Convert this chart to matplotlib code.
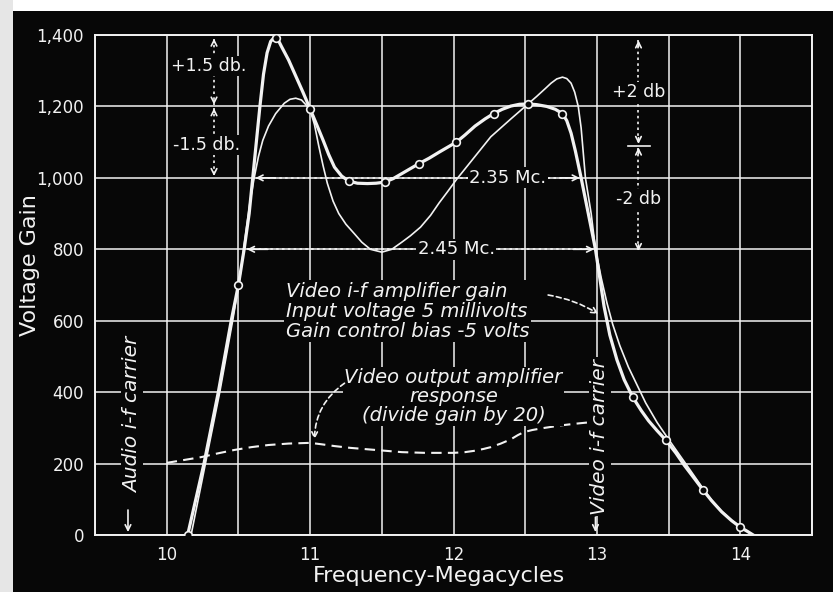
import numpy as np
import matplotlib
matplotlib.use("Agg")
from matplotlib import pyplot as plt
from matplotlib.patches import Rectangle

# measured i-f gain (thick curve through the circles)
gain_x = [10.146, 10.26, 10.36, 10.45, 10.50, 10.54, 10.575, 10.60, 10.625, 10.65, 10.675,
          10.70, 10.725, 10.75, 10.775, 10.80, 10.85, 10.90, 10.95, 11.00, 11.05, 11.09,
          11.13, 11.17, 11.22, 11.27, 11.33, 11.40, 11.46, 11.52, 11.58, 11.64, 11.70,
          11.76, 11.83, 11.90, 11.96, 12.02, 12.08, 12.15, 12.22, 12.28, 12.34, 12.40,
          12.46, 12.52, 12.58, 12.65, 12.71, 12.76, 12.79, 12.82, 12.85, 12.89, 12.94,
          12.99, 13.02, 13.05, 13.09, 13.14, 13.19, 13.25, 13.31, 13.36, 13.42, 13.48,
          13.55, 13.61, 13.68, 13.74, 13.80, 13.87, 13.94, 14.00, 14.05, 14.09]
gain_y = [0, 200, 400, 600, 700, 800, 900, 1000, 1100, 1200, 1290,
          1350, 1382, 1393, 1388, 1368, 1330, 1285, 1240, 1193, 1145, 1106,
          1065, 1030, 1005, 991, 985, 984, 985, 988, 998, 1012, 1026,
          1040, 1055, 1072, 1086, 1100, 1120, 1145, 1165, 1180, 1192, 1201,
          1206, 1207, 1205, 1200, 1192, 1180, 1160, 1125, 1075, 1000, 900,
          800, 720, 640, 560, 490, 435, 386, 348, 320, 292, 266,
          230, 195, 158, 126, 96, 65, 40, 22, 10, 0]

# measured points (circles)
meas_x = [10.146, 10.50, 10.76, 11.00, 11.27, 11.52, 11.76, 12.02, 12.28, 12.52, 12.76,
          13.25, 13.48, 13.74, 14.00]
meas_y = [0, 700, 1392, 1193, 991, 988, 1040, 1100, 1180, 1207, 1180, 386, 266, 126, 22]

# second (thin) response curve
thin_x = [10.17, 10.27, 10.37, 10.46, 10.51, 10.55, 10.58, 10.61, 10.64, 10.67, 10.71,
          10.76, 10.82, 10.86, 10.90, 10.94, 10.97, 11.00, 11.03, 11.06, 11.09, 11.12,
          11.16, 11.20, 11.25, 11.31, 11.36, 11.42, 11.50, 11.57, 11.64, 11.70, 11.77,
          11.84, 11.90, 11.96, 12.02, 12.08, 12.14, 12.20, 12.26, 12.33, 12.40, 12.46,
          12.52, 12.58, 12.64, 12.68, 12.72, 12.76, 12.79, 12.82, 12.845, 12.87, 12.89,
          12.905, 12.92, 12.96, 12.99, 13.03, 13.07, 13.11, 13.16, 13.22, 13.28, 13.34,
          13.42, 13.51, 13.58, 13.65, 13.74, 13.80, 13.87, 13.94, 14.00, 14.05, 14.09]
thin_y = [0, 200, 400, 600, 720, 840, 930, 1000, 1060, 1105, 1145,
          1180, 1209, 1220, 1223, 1218, 1205, 1190, 1150, 1090, 1035, 985,
          935, 900, 870, 843, 820, 800, 792, 800, 820, 838, 862,
          895, 930, 962, 995, 1025, 1055, 1085, 1115, 1140, 1165, 1186,
          1207, 1228, 1250, 1265, 1277, 1282, 1278, 1265, 1240, 1200, 1140,
          1070, 1000, 900, 800, 720, 650, 590, 530, 470, 420, 370,
          315, 262, 222, 182, 130, 98, 66, 41, 22, 10, 0]

# video output amplifier response (dashed)
vid_x = [10.0, 10.12, 10.24, 10.35, 10.47, 10.59, 10.71, 10.85, 11.0, 11.08, 11.17,
         11.28, 11.4, 11.52, 11.64, 11.8, 12.0, 12.08, 12.15, 12.21, 12.26, 12.33,
         12.4, 12.45, 12.49, 12.55, 12.62, 12.75, 12.86, 12.96]
vid_y = [202, 210, 218, 228, 238, 246, 252, 256, 258, 254, 249,
         244, 240, 236, 232, 230, 230, 232, 236, 241, 246, 256,
         268, 280, 288, 294, 299, 307, 312, 316]

y_ticks = [0, 200, 400, 600, 800, 1000, 1200, 1400]
y_labels = ["0", "200", "400", "600", "800", "1,000", "1,200", "1,400"]
x_ticks = [10, 11, 12, 13, 14]

W = "#f2f2f2"
BG = "#070707"

fig = plt.figure(figsize=(8.33, 5.92), dpi=100, facecolor=BG)
ax = fig.add_axes([95/833, 1-535/592, (812-95)/833, (535-35)/592])
ax.set_facecolor(BG)
ax.set_xlim(9.5, 14.5)
ax.set_ylim(0, 1400)

# white paper edge on top and left
fig.patches.append(Rectangle((0, 1-11/592), 1, 11/592, transform=fig.transFigure,
                             facecolor="white", edgecolor="none", zorder=0))
fig.patches.append(Rectangle((0, 0), 13/833, 1, transform=fig.transFigure,
                             facecolor="#e6e6e6", edgecolor="none", zorder=0))

ax.set_xticks(x_ticks)
ax.set_xticks(np.arange(9.5, 14.6, 0.5), minor=True)
ax.set_yticks(y_ticks)
ax.set_yticklabels(y_labels)
ax.grid(True, which="both", axis="x", color=W, lw=1.1)
ax.grid(True, which="major", axis="y", color=W, lw=1.1)
ax.tick_params(which="both", length=0, colors=W, labelsize=12, pad=8)
for s in ax.spines.values():
    s.set_color(W)
    s.set_linewidth(1.4)
ax.set_axisbelow(True)

ax.plot(thin_x, thin_y, color=W, lw=1.2, zorder=3)
ax.plot(gain_x, gain_y, color=W, lw=2.3, zorder=4)
ax.plot(meas_x, meas_y, "o", ms=5.5, mfc=BG, mec=W, mew=1.2, zorder=5)
ax.plot(vid_x, vid_y, color=W, lw=1.5, ls=(0, (5, 3)), zorder=3)

tb = dict(facecolor=BG, edgecolor="none", pad=1.0)


def dotted_arrow(x0, y0, x1, y1):
    ax.plot([x0, x1], [y0, y1], color=W, lw=1.2, ls=(0, (1.5, 2)), zorder=3)
    for (a, b), (c, d) in [((x0, y0), (x1, y1)), ((x1, y1), (x0, y0))]:
        ax.annotate("", xy=(a, b), xytext=(a + (c - a) * 0.06, b + (d - b) * 0.06),
                    arrowprops=dict(arrowstyle="->", color=W, lw=1.2,
                                    shrinkA=0, shrinkB=0), zorder=4)


# bandwidth markers
dotted_arrow(10.62, 1000, 12.88, 1000)
ax.text(12.38, 1000, "2.35 Mc.", color=W, fontsize=13, ha="center", va="center", bbox=tb, zorder=4)
dotted_arrow(10.56, 800, 12.98, 800)
ax.text(12.02, 800, "2.45 Mc.", color=W, fontsize=13, ha="center", va="center", bbox=tb, zorder=4)

# db markers
dotted_arrow(10.33, 1390, 10.33, 1205)
dotted_arrow(10.33, 1195, 10.33, 1005)
ax.text(10.29, 1313, "+1.5 db.", color=W, fontsize=12.5, ha="center", va="center", bbox=tb, zorder=5)
ax.text(10.28, 1092, "-1.5 db.", color=W, fontsize=12.5, ha="center", va="center", bbox=tb, zorder=5)

dotted_arrow(13.29, 1385, 13.29, 1095)
dotted_arrow(13.29, 1085, 13.29, 795)
ax.plot([13.22, 13.37], [1090, 1090], color=W, lw=1.2, zorder=4)
ax.text(13.29, 1240, "+2 db", color=W, fontsize=12.5, ha="center", va="center", bbox=tb, zorder=5)
ax.text(13.29, 940, "-2 db", color=W, fontsize=12.5, ha="center", va="center", bbox=tb, zorder=5)

# notes
ax.text(10.83, 626, "Video i-f amplifier gain\nInput voltage 5 millivolts\nGain control bias -5 volts",
        color=W, fontsize=14, style="italic", ha="left", va="center", linespacing=1.08,
        bbox=tb, zorder=5)
ax.annotate("", xy=(13.01, 619), xytext=(12.66, 672),
            arrowprops=dict(arrowstyle="->", color=W, lw=1.2, ls=(0, (3, 2)),
                            connectionstyle="arc3,rad=-0.1", shrinkA=0, shrinkB=0), zorder=5)

ax.text(12.0, 388, "Video output amplifier\nresponse\n(divide gain by 20)",
        color=W, fontsize=14, style="italic", ha="center", va="center", linespacing=1.0,
        multialignment="center", bbox=tb, zorder=5)
ax.annotate("", xy=(11.03, 268), xytext=(11.24, 425),
            arrowprops=dict(arrowstyle="->", color=W, lw=1.2, ls=(0, (3, 2)),
                            connectionstyle="arc3,rad=0.25", shrinkA=0, shrinkB=0), zorder=5)

# carriers
ax.text(9.76, 335, "Audio i-f carrier", color=W, fontsize=14.5, style="italic", rotation=90,
        ha="center", va="center", bbox=tb, zorder=5)
ax.annotate("", xy=(9.73, 8), xytext=(9.73, 70),
            arrowprops=dict(arrowstyle="->", color=W, lw=1.2, shrinkA=0, shrinkB=0), zorder=5)
ax.text(13.02, 275, "Video i-f carrier", color=W, fontsize=14.5, style="italic", rotation=90,
        ha="center", va="center", bbox=tb, zorder=5)
ax.annotate("", xy=(12.99, 8), xytext=(12.99, 50),
            arrowprops=dict(arrowstyle="->", color=W, lw=1.2, shrinkA=0, shrinkB=0), zorder=5)

fig.text(30/833, 1-265/592, "Voltage Gain", color=W, fontsize=16, rotation=90,
         ha="center", va="center")
fig.text(439/833, 1-576/592, "Frequency-Megacycles", color=W, fontsize=16,
         ha="center", va="center")

fig.savefig("out.png", dpi=100, facecolor=fig.get_facecolor())
